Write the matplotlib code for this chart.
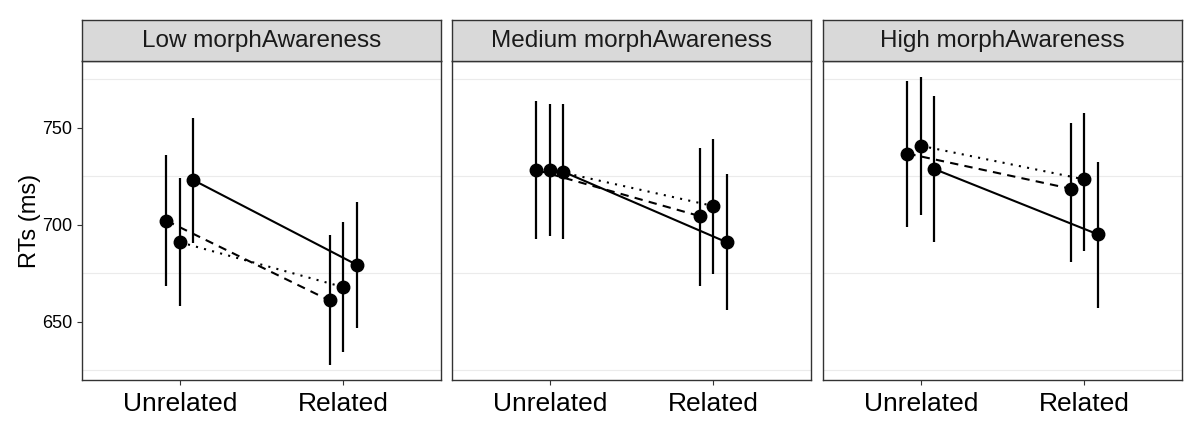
import numpy as np
import matplotlib
matplotlib.use("Agg")
import matplotlib.pyplot as plt

plt.rcParams['font.family'] = ['Liberation Sans', 'DejaVu Sans']

panels = ["Low morphAwareness", "Medium morphAwareness", "High morphAwareness"]
conditions = ["Unrelated", "Related"]

# rows: group 1 (dashed), group 2 (dotted), group 3 (solid); cols: Unrelated, Related
means = {
    "Low morphAwareness": [[702.2, 661.1], [691.1, 668.0], [723.1, 679.5]],
    "Medium morphAwareness": [[728.3, 704.6], [728.5, 709.8], [727.4, 691.1]],
    "High morphAwareness": [[736.8, 718.7], [740.8, 723.5], [728.8, 695.2]],
}
upper = {
    "Low morphAwareness": [[736.0, 694.9], [724.3, 701.7], [755.0, 712.0]],
    "Medium morphAwareness": [[763.7, 739.9], [762.5, 744.5], [762.2, 726.2]],
    "High morphAwareness": [[774.3, 752.8], [776.5, 757.6], [766.4, 732.2]],
}
lower = {
    "Low morphAwareness": [[668.3, 627.7], [658.0, 634.4], [690.6, 646.9]],
    "Medium morphAwareness": [[692.6, 668.8], [694.3, 674.8], [692.6, 656.3]],
    "High morphAwareness": [[698.8, 681.0], [705.0, 686.8], [691.3, 657.4]],
}

dodge = [-0.083, 0.0, 0.083]
styles = [(0, (4, 3)), (0, (1, 3)), "solid"]

fig = plt.figure(figsize=(12, 4.3), dpi=100)
lefts = [82 / 1200, 452 / 1200, 823 / 1200]
w = 359 / 1200
bottom = 1 - 380 / 430
h = (380 - 61) / 430
strip_h = 41 / 430
edge = "#333333"

for k, name in enumerate(panels):
    ax = fig.add_axes([lefts[k], bottom, w, h])
    for y in [625, 675, 725, 775]:
        ax.axhline(y, color="#EBEBEB", lw=0.8, zorder=0)
    m = np.array(means[name])
    up = np.array(upper[name])
    lo = np.array(lower[name])
    xs = np.arange(1, len(conditions) + 1)
    for g in range(3):
        x = xs + dodge[g]
        ax.plot(x, m[g], color="black", lw=1.5, linestyle=styles[g], zorder=2)
        ax.vlines(x, lo[g], up[g], color="black", lw=1.6, zorder=3)
        ax.plot(x, m[g], "o", color="black", ms=9, zorder=4)
    ax.set_xlim(0.4, 2.6)
    ax.set_ylim(620.1, 784.5)
    ax.set_xticks(xs)
    ax.set_xticklabels(conditions, fontsize=19, color="black")
    ax.set_yticks([650, 700, 750])
    ax.tick_params(axis="both", length=3.5, width=0.8, color=edge)
    ax.tick_params(axis="x", pad=5)
    if k == 0:
        ax.set_yticklabels(["650", "700", "750"], fontsize=13)
        ax.set_ylabel("RTs (ms)", fontsize=17, labelpad=1)
    else:
        ax.tick_params(axis="y", left=False, labelleft=False)
    for s in ax.spines.values():
        s.set_color(edge)
        s.set_linewidth(1.0)

    sax = fig.add_axes([lefts[k], bottom + h, w, strip_h])
    sax.set_facecolor("#D9D9D9")
    sax.set_xticks([])
    sax.set_yticks([])
    for s in sax.spines.values():
        s.set_color(edge)
        s.set_linewidth(1.0)
    sax.text(0.5, 0.5, name, ha="center", va="center", fontsize=17.5,
             color="#1A1A1A", transform=sax.transAxes)

fig.savefig("out.png", dpi=100)
